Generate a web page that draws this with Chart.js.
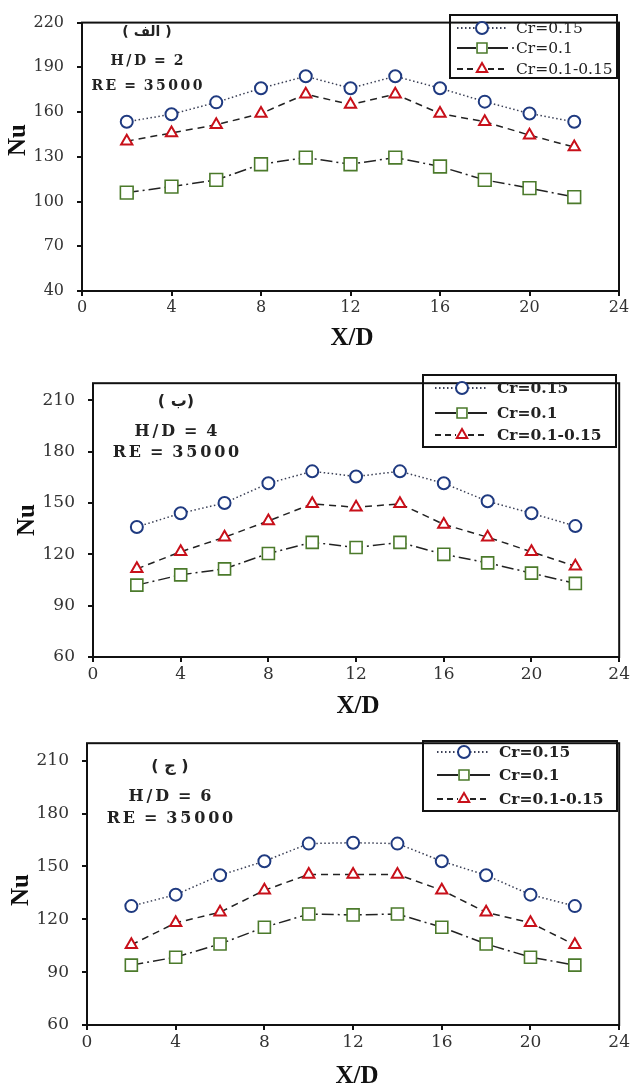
<!DOCTYPE html>
<html><head><meta charset="utf-8">
<script src="https://cdn.jsdelivr.net/npm/chart.js@4/dist/chart.umd.min.js"></script>
<style>
html,body{margin:0;padding:0;background:#fff;}
body{width:632px;height:1088px;position:relative;overflow:hidden;}
.box{position:absolute;left:0;width:632px;}
</style></head><body>
<div class="box" style="top:0;height:355px"><canvas id="c1"></canvas></div>
<div class="box" style="top:360px;height:360px"><canvas id="c2"></canvas></div>
<div class="box" style="top:720px;height:368px"><canvas id="c3"></canvas></div>
<script>
// ---- data ----
const xValues = [2,4,6,8,10,12,14,16,18,20,22];
const seriesNames = ['Cr=0.15','Cr=0.1','Cr=0.1-0.15'];
// H/D = 2
const hd2_cr015 = [153.5,158.5,166.5,176,184,176,184,176,167,159,153.5];
const hd2_cr01  = [106,110,114.5,125,129.5,125,129.5,123.5,114.5,109,103];
const hd2_mix   = [140.5,146,151.5,159,172,165,172,159,153.5,144.5,136.5];
// H/D = 4
const hd4_cr015 = [136,144,150,161.5,168.5,165.5,168.5,161.5,151,144,136.5];
const hd4_cr01  = [102,108,111.5,120.5,127,124,127,120,115,109,103];
const hd4_mix   = [111.5,121.5,130,139.5,149.5,147.5,149.5,137.5,130,121.5,113];
// H/D = 6
const hd6_cr015 = [127.5,134,145,153,163,163.5,163,153,145,134,127.5];
const hd6_cr01  = [94,98.5,106,115.5,123,122.5,123,115.5,106,98.5,94];
const hd6_mix   = [105.5,118,124,136.5,145.5,145.5,145.5,136.5,124,118,105.5];
const xTicks = [0,4,8,12,16,20,24];
const yTicks1 = [40,70,100,130,160,190,220];
const yTicks23 = [60,90,120,150,180,210];
const panelLabels = ['( الف )','( ب)','( ج )'];
const hdLabels = ['H/D = 2','H/D = 4','H/D = 6'];
const reLabel = 'RE = 35000';

const SERIF = '"DejaVu Serif", serif';

function spaced(ctx, text, cx, cy, sp){
  let w = 0; const ws = [];
  for (const ch of text){ const m = (ch===' ') ? ctx.measureText(ch).width*0.6 : ctx.measureText(ch).width; ws.push(m); w += m; }
  w += sp*(text.length-1);
  let x = cx - w/2; let i=0;
  ctx.textAlign='left';
  for (const ch of text){ ctx.fillText(ch, x, cy); x += ws[i++] + sp; }
}

const styles = [
  {line:'#3a3f55', dash:[1.5,2.5], ps:'circle', pc:'#1f3a80', pw:2},
  {line:'#222', dash:[12,4,2,4], ps:'rect', pc:'#4b7a2b', pw:1.6},
  {line:'#222', dash:[7,5], ps:'triangle', pc:'#c8101a', pw:2}
];

function makeChart(id, cfg){
  const ds = cfg.series.map((arr,i)=>({
    label: seriesNames[i],
    data: xValues.map((x,j)=>({x:x, y:arr[j]})),
    borderColor: styles[i].line,
    borderDash: styles[i].dash,
    borderWidth: 1.5,
    pointStyle: styles[i].ps,
    pointRadius: i===1 ? cfg.sq : (i===2 ? 6.5 : 6),
    pointBorderColor: styles[i].pc,
    pointBackgroundColor: '#fff',
    pointBorderWidth: styles[i].pw,
    tension: 0,
    fill: false
  }));
  const deco = {
    id:'deco',
    afterDraw(chart){
      const ctx = chart.ctx, a = chart.chartArea;
      ctx.save();
      ctx.strokeStyle='#111'; ctx.lineWidth=2; ctx.setLineDash([]);
      ctx.strokeRect(a.left, a.top, a.right-a.left, a.bottom-a.top);
      // axis titles
      ctx.fillStyle='#111';
      ctx.font = 'bold 25px "Liberation Serif", serif';
      ctx.textAlign='center'; ctx.textBaseline='middle';
      ctx.fillText('X/D', cfg.xt[0], cfg.xt[1]);
      ctx.save(); ctx.translate(cfg.nu[0], cfg.nu[1]); ctx.rotate(-Math.PI/2);
      ctx.fillText('Nu', 0, 0); ctx.restore();
      // annotations
      ctx.fillStyle='#222';
      ctx.font = 'bold '+cfg.af+'px "DejaVu Sans", sans-serif';
      ctx.textAlign='center';
      ctx.fillText(cfg.panel, cfg.ax, cfg.ay[0]);
      ctx.font = 'bold '+cfg.af+'px "DejaVu Serif", serif';
      spaced(ctx, cfg.hd, cfg.ax, cfg.ay[1], cfg.sp);
      spaced(ctx, reLabel, cfg.ax, cfg.ay[2], cfg.sp);
      // legend
      const L = cfg.leg;
      ctx.lineWidth=2; ctx.strokeStyle='#111';
      ctx.strokeRect(L.x0, L.y0, L.x1-L.x0, L.y1-L.y0);
      ctx.font = (L.bold?'bold ':'')+L.fs+'px '+SERIF;
      ctx.textAlign='left'; ctx.textBaseline='middle';
      const dashes = [[1.5,2.5],[],[6,4]];
      for (let i=0;i<3;i++){
        const y = L.rows[i];
        ctx.save();
        ctx.strokeStyle = styles[i].line; ctx.lineWidth=2; ctx.setLineDash(dashes[i]);
        ctx.beginPath(); ctx.moveTo(L.l0,y); ctx.lineTo(L.m-6,y); ctx.stroke();
        ctx.beginPath(); ctx.moveTo(L.m+6,y); ctx.lineTo(L.l1,y); ctx.stroke();
        if (i===1 && L.dot){ ctx.beginPath(); ctx.arc(L.l1+5, y, 1, 0, Math.PI*2); ctx.fillStyle='#222'; ctx.fill(); }
        ctx.restore();
        ctx.save();
        ctx.fillStyle='#fff'; ctx.strokeStyle=styles[i].pc; ctx.lineWidth=styles[i].pw; ctx.setLineDash([]);
        Chart.helpers.drawPoint(ctx, {pointStyle:styles[i].ps, radius:i===1?7:6, rotation:0, borderWidth:styles[i].pw}, L.m, y);
        ctx.restore();
        ctx.fillStyle='#222';
        ctx.fillText(seriesNames[i], L.t, y+1);
      }
      ctx.restore();
    }
  };
  return new Chart(document.getElementById(id), {
    type:'line',
    data:{datasets:ds},
    options:{
      responsive:true, maintainAspectRatio:false, animation:false,
      layout:{padding:{left:0, right:cfg.pr, top:cfg.pt, bottom:0}},
      plugins:{legend:{display:false}, tooltip:{enabled:false}},
      scales:{
        x:{type:'linear', min:0, max:24,
           afterBuildTicks:s=>{s.ticks = xTicks.map(v=>({value:v}));},
           afterFit:s=>{s.height = cfg.xh;},
           border:{display:false},
           grid:{display:true, drawOnChartArea:false, drawTicks:true, tickLength:5, color:'#111', lineWidth:2},
           ticks:{padding:2, color:'#333', font:{family:SERIF, size:cfg.tf}, maxRotation:0}
        },
        y:{type:'linear', min:cfg.ymin, max:220,
           afterBuildTicks:s=>{s.ticks = cfg.yt.map(v=>({value:v}));},
           afterFit:s=>{s.width = cfg.left;},
           border:{display:false},
           grid:{display:true, drawOnChartArea:false, drawTicks:true, tickLength:5, color:'#111', lineWidth:2},
           ticks:{padding:cfg.tp, color:'#333', font:{family:SERIF, size:cfg.tf}}
        }
      }
    },
    plugins:[deco]
  });
}

makeChart('c1', {series:[hd2_cr015,hd2_cr01,hd2_mix], sq:9, ymin:40, yt:yTicks1,
  left:82, pr:13, pt:15, xh:64, tf:16, tp:13,
  xt:[352,339], nu:[19,140], panel:panelLabels[0], hd:hdLabels[0], ax:147, ay:[32,61,86], af:14, sp:2.5,
  leg:{x0:450,x1:617,y0:15,y1:78, rows:[28,48,69], l0:457,l1:508,m:482,t:516, fs:15.5, bold:false, dot:true}});
makeChart('c2', {series:[hd4_cr015,hd4_cr01,hd4_mix], sq:8.5, ymin:60, yt:yTicks23,
  left:93, pr:8, pt:12, xh:63, tf:17, tp:13,
  xt:[358,347], nu:[28,160], panel:panelLabels[1], hd:hdLabels[1], ax:176, ay:[42,72,93], af:16, sp:2.8,
  leg:{x0:423,x1:616,y0:15,y1:87, rows:[28,53,75], l0:435,l1:487,m:462,t:497, fs:15.5, bold:true, dot:false}});
makeChart('c3', {series:[hd6_cr015,hd6_cr01,hd6_mix], sq:8.5, ymin:60, yt:yTicks23,
  left:87, pr:7, pt:14, xh:63, tf:17, tp:13,
  xt:[357,357], nu:[22,170], panel:panelLabels[2], hd:hdLabels[2], ax:170, ay:[47,77,99], af:16, sp:2.8,
  leg:{x0:423,x1:617,y0:21,y1:91, rows:[32,55,79], l0:437,l1:490,m:464,t:499, fs:15.5, bold:true, dot:false}});
</script>
</body></html>
